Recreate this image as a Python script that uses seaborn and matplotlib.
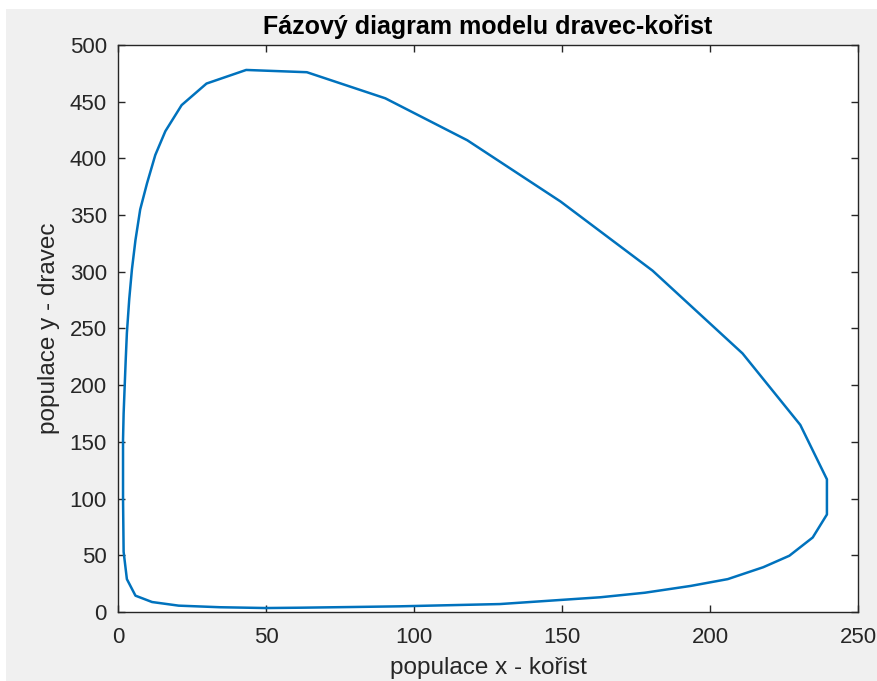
import matplotlib
matplotlib.use("Agg")
import matplotlib.pyplot as plt
import seaborn as sns
import pandas as pd

# Phase trajectory (prey x, predator y)
prey_x = [50, 62, 79, 95, 112, 129, 146, 163, 178, 193.5, 206, 218, 226.8, 234.7,
          239.5, 239.5, 230.5, 211, 180.6, 149.5, 118, 90.3, 63.8, 43.3, 29.9,
          21.5, 16, 12.6, 9.8, 7.5, 5.9, 4.7, 3.8, 3.0, 2.6, 2.3, 1.9, 1.7, 1.7,
          1.9, 3.0, 5.9, 11.5, 20.5, 34.5, 50]
predator_y = [3.5, 3.8, 4.4, 5, 6, 7, 10, 13, 17, 23, 29, 39.5, 49.6, 65.7,
              86, 117, 165, 228, 301, 362, 416, 453, 476, 478, 466,
              447, 424, 403, 378, 355, 328, 302, 276, 246, 222, 202, 175, 152, 100,
              53, 29, 14.4, 8.8, 5.6, 4.2, 3.5]

title = "Fázový diagram modelu dravec-kořist"
xlabel = "populace x - kořist"
ylabel = "populace y - dravec"
xticks = [0, 50, 100, 150, 200, 250]
yticks = [0, 50, 100, 150, 200, 250, 300, 350, 400, 450, 500]

df = pd.DataFrame({"x": prey_x, "y": predator_y, "order": range(len(prey_x))})

sns.set_style("ticks")
plt.rcParams["font.family"] = ["Liberation Sans", "DejaVu Sans"]

fig = plt.figure(figsize=(8.78, 6.81), dpi=100, facecolor="#f0f0f0")
# white strips at the top and left edge of the screenshot
fig.patches.append(matplotlib.patches.Rectangle((0, 1 - 9 / 681), 1, 9 / 681,
                                                transform=fig.transFigure,
                                                facecolor="white", edgecolor="none", zorder=-1))
fig.patches.append(matplotlib.patches.Rectangle((0, 0), 6 / 878, 1,
                                                transform=fig.transFigure,
                                                facecolor="white", edgecolor="none", zorder=-1))
ax = fig.add_axes([118 / 878, 69 / 681, 740 / 878, 567 / 681])
ax.set_facecolor("white")

sns.lineplot(data=df, x="x", y="y", sort=False, estimator=None, ax=ax,
             color="#0072BD", linewidth=1.8)

ax.set_xlim(0, 250)
ax.set_ylim(0, 500)
ax.set_xticks(xticks)
ax.set_yticks(yticks)
ax.tick_params(direction="in", top=True, right=True, length=5, width=1.0,
               colors="#262626", labelsize=16)
ax.tick_params(axis="x", pad=11)
ax.tick_params(axis="y", pad=8)
for s in ax.spines.values():
    s.set_visible(True)
    s.set_color("#262626")
    s.set_linewidth(1.0)

ax.set_title(title, fontsize=18, fontweight="bold", color="#000000", pad=8)
ax.set_xlabel(xlabel, fontsize=17.5, color="#262626", labelpad=6.5)
ax.set_ylabel(ylabel, fontsize=17.5, color="#262626", labelpad=7)

fig.savefig("out.png", dpi=100, facecolor=fig.get_facecolor())
